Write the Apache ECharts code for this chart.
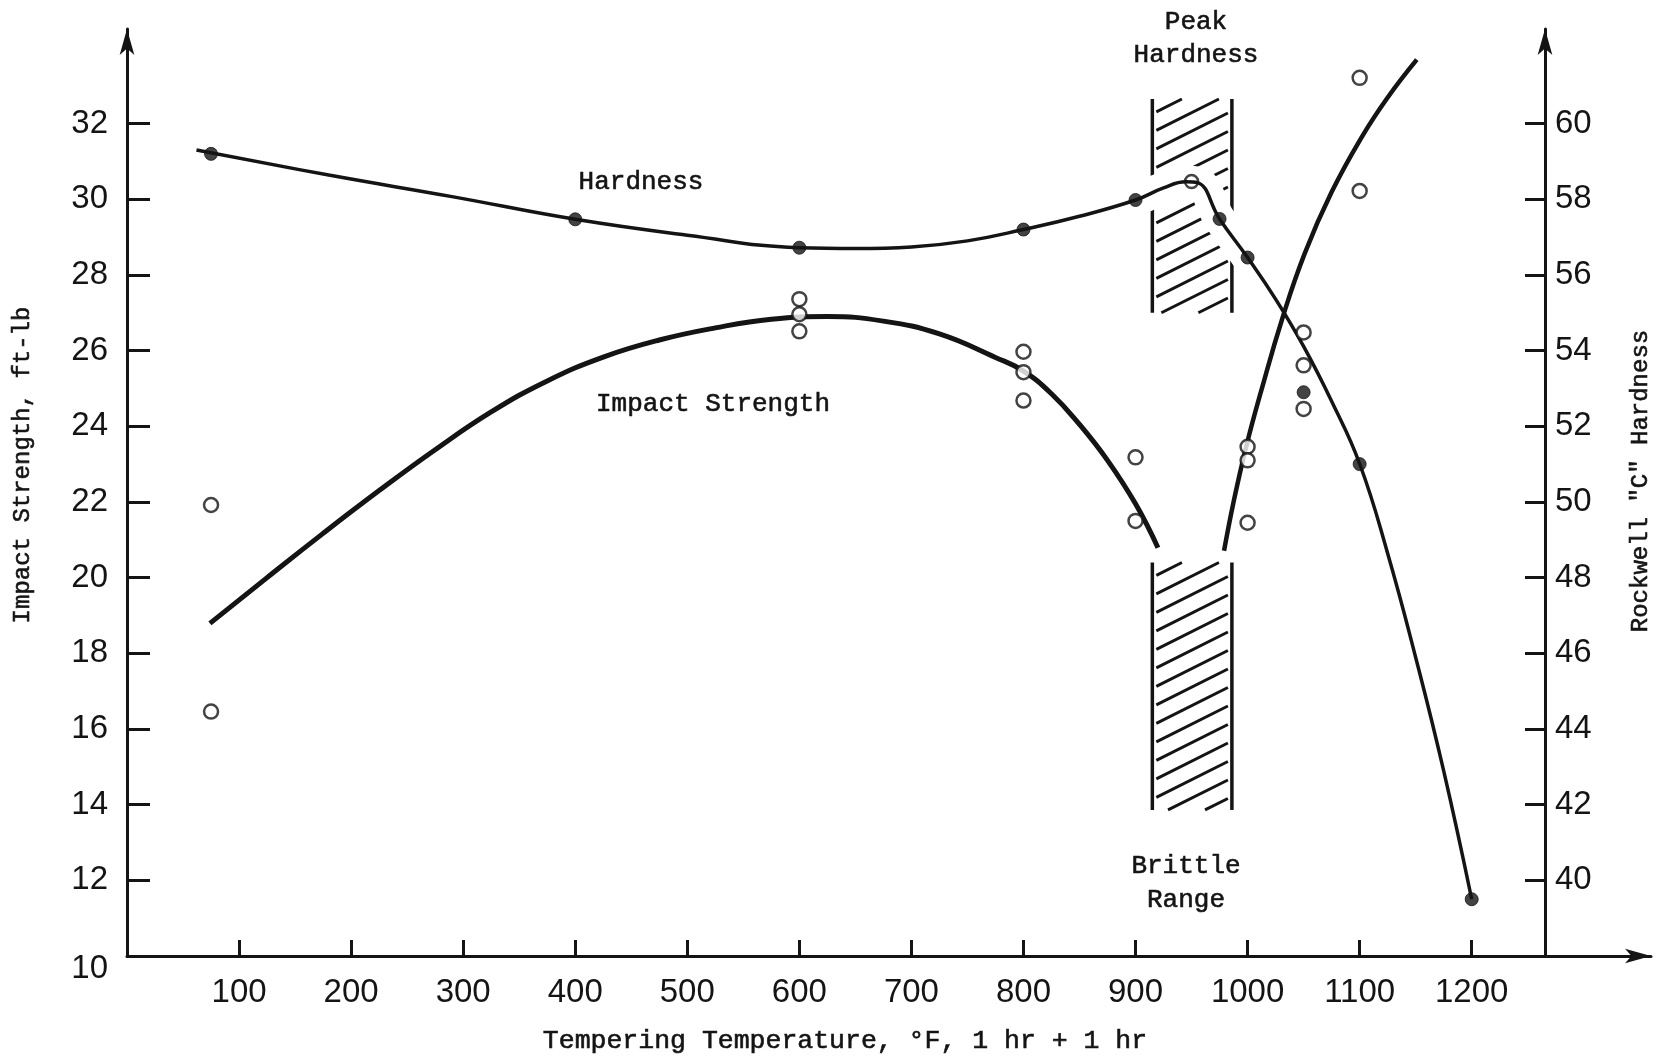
<!DOCTYPE html>
<html>
<head>
<meta charset="utf-8">
<script src="https://cdn.jsdelivr.net/npm/echarts@6/dist/echarts.min.js"></script>
<style>
  html, body { margin: 0; padding: 0; background: #ffffff; }
  #chart { width: 1657px; height: 1059px; }
</style>
</head>
<body>
<div id="chart"></div>
<script>
// Tempering response of a hardened steel: Rockwell "C" hardness (right axis)
// and impact strength (left axis) against tempering temperature.

// Axis ticks
const tempTicks = [100, 200, 300, 400, 500, 600, 700, 800, 900, 1000, 1100, 1200];
const impactTicks = [12, 14, 16, 18, 20, 22, 24, 26, 28, 30, 32];
const impactLabels = [10, 12, 14, 16, 18, 20, 22, 24, 26, 28, 30, 32];
const hardnessTicks = [40, 42, 44, 46, 48, 50, 52, 54, 56, 58, 60];

// Measured hardness (filled points), Rockwell C
const hardTemp  = [75, 400, 600, 800, 900, 950, 975, 1000, 1050, 1100, 1200];
const hardValue = [59.2, 57.47, 56.72, 57.2, 57.98, 58.47, 57.48, 56.46, 52.9, 51.0, 39.5];

// Faired hardness curve
const hardCurveTemp  = [62, 180, 290, 400, 500, 600, 650, 700, 750, 800, 850, 900, 925, 945, 955, 975, 1000, 1025, 1050, 1075, 1100, 1125, 1150, 1175, 1200];
const hardCurveValue = [59.3, 58.64, 58.07, 57.47, 57.05, 56.72, 56.7, 56.74, 56.9, 57.2, 57.55, 57.98, 58.3, 58.46, 58.44, 57.48, 56.46, 55.36, 54.11, 52.66, 51.01, 48.64, 45.89, 42.89, 39.5];

// Measured impact strength (open points), ft-lb
const impactTemp  = [75, 75, 600, 600, 600, 800, 800, 800, 900, 900, 1000, 1000, 1000, 1050, 1050, 1050, 1100, 1100];
const impactValue = [21.92, 16.46, 27.36, 26.96, 26.51, 25.97, 25.43, 24.68, 23.18, 21.5, 23.46, 23.1, 21.45, 26.48, 25.61, 24.46, 33.21, 30.22];

// Faired impact curve, below and above the brittle range
const impactLowTemp   = [74, 125, 175, 225, 275, 325, 375, 425, 475, 525, 575, 625, 675, 725, 775, 800, 825, 850, 875, 900, 920];
const impactLowValue  = [18.79, 20.0, 21.17, 22.3, 23.38, 24.38, 25.2, 25.83, 26.28, 26.6, 26.83, 26.9, 26.78, 26.44, 25.82, 25.46, 24.86, 24.05, 23.1, 21.95, 20.79];
const impactHighTemp  = [979, 988, 999, 1012, 1031, 1051, 1075, 1102, 1125, 1151];
const impactHighValue = [20.71, 22.07, 23.49, 24.92, 26.85, 28.57, 30.19, 31.65, 32.69, 33.69];

// Hatched temperature bands (on the impact scale): peak hardness, brittle range
const zoneStart  = [915, 915];
const zoneEnd    = [986, 986];
const zoneBottom = [27.0, 13.86];
const zoneTop    = [32.65, 20.4];

const pairs = (xs, ys) => xs.map((x, i) => [x, ys[i]]);

const INK = '#141414';
const NUM_FONT = 'Liberation Sans';
const TYPE_FONT = 'Liberation Mono';
const SMOOTH = 0.45;

function renderZone(params, api) {
  const topLeft = api.coord([api.value(0), api.value(3)]);
  const botRight = api.coord([api.value(1), api.value(2)]);
  const x0 = topLeft[0], yT = topLeft[1], x1 = botRight[0], yB = botRight[1];
  const children = [
    { type: 'line', shape: { x1: x0, y1: yT, x2: x0, y2: yB }, style: { stroke: INK, lineWidth: 3.5 } },
    { type: 'line', shape: { x1: x1, y1: yT, x2: x1, y2: yB }, style: { stroke: INK, lineWidth: 3.5 } }
  ];
  const slope = 0.5, step = 18.5, inset = 4;
  const w = x1 - x0;
  for (let c = yT + step * 0.8; c < yB + slope * w; c += step) {
    const xa = Math.max(x0 + inset, x0 + (c - yB) / slope);
    const xb = Math.min(x1 - inset, x0 + (c - yT) / slope);
    if (xb - xa > 8) {
      children.push({
        type: 'line',
        shape: { x1: xa, y1: c - slope * (xa - x0), x2: xb, y2: c - slope * (xb - x0) },
        style: { stroke: INK, lineWidth: 3 }
      });
    }
  }
  return { type: 'group', children };
}

const chart = echarts.init(document.getElementById('chart'));

const typeText = (text, x, y, size, rot) => ({
  type: 'text', x, y, rotation: rot || 0, z: 10,
  style: {
    text, fill: INK, stroke: INK, lineWidth: 0.6,
    fontSize: size, fontFamily: TYPE_FONT, align: 'center', verticalAlign: 'middle'
  }
});

const numLabel = { color: INK, fontSize: 33, fontFamily: NUM_FONT };

chart.setOption({
  animation: false,
  backgroundColor: '#ffffff',
  grid: { left: 127, right: 6, top: 29, bottom: 103 },
  xAxis: {
    type: 'value', min: 0, max: 1360,
    axisLine: { show: true, symbol: ['none', 'arrow'], symbolSize: [11, 26], lineStyle: { color: INK, width: 3 } },
    axisTick: { show: true, inside: true, length: 16, customValues: tempTicks, lineStyle: { color: INK, width: 3 } },
    axisLabel: Object.assign({ customValues: tempTicks, margin: 20, formatter: v => String(v) }, numLabel),
    splitLine: { show: false }
  },
  yAxis: [
    {
      type: 'value', position: 'left', min: 10, max: 34.5,
      axisLine: { show: true, symbol: ['none', 'arrow'], symbolSize: [11, 26], lineStyle: { color: INK, width: 3 } },
      axisTick: { show: true, inside: true, length: 23, customValues: impactTicks, lineStyle: { color: INK, width: 3 } },
      axisLabel: Object.assign({
        customValues: impactLabels, margin: 19,
        formatter: v => (v === 10 ? '{low|10}' : String(v)),
        rich: { low: Object.assign({ padding: [26, 0, 0, 0] }, numLabel) }
      }, numLabel),
      splitLine: { show: false }
    },
    {
      type: 'value', position: 'right', offset: -106, min: 38, max: 62.5,
      axisLine: { show: true, symbol: ['none', 'arrow'], symbolSize: [11, 26], lineStyle: { color: INK, width: 3 } },
      axisTick: { show: true, inside: true, length: 20, customValues: hardnessTicks, lineStyle: { color: INK, width: 3 } },
      axisLabel: Object.assign({ customValues: hardnessTicks, margin: 10, formatter: v => String(v) }, numLabel),
      splitLine: { show: false }
    }
  ],
  graphic: [
    typeText('Tempering Temperature, °F, 1 hr + 1 hr', 845, 1041, 26.5),
    typeText('Impact Strength, ft-lb', 23, 465, 24, Math.PI / 2),
    typeText('Rockwell "C" Hardness', 1641, 481, 24, Math.PI / 2),
    typeText('Hardness', 641, 182, 26),
    typeText('Impact Strength', 713, 404, 26),
    typeText('Peak', 1196, 22, 26),
    typeText('Hardness', 1196, 55, 26),
    typeText('Brittle', 1186, 866, 26),
    typeText('Range', 1186, 900, 26)
  ],
  series: [
    {
      name: 'bands', type: 'custom', z: 1, silent: true,
      renderItem: renderZone,
      encode: { x: [0, 1], y: [2, 3] },
      data: zoneStart.map((s, i) => [s, zoneEnd[i], zoneBottom[i], zoneTop[i]])
    },
    {
      // white clearance along the hardness curve through the hatching
      name: 'hardness clearance', type: 'line', yAxisIndex: 1, z: 2, silent: true,
      smooth: SMOOTH, symbol: 'none',
      lineStyle: { color: '#ffffff', width: 32 },
      data: pairs(hardCurveTemp, hardCurveValue)
    },
    {
      name: 'Hardness curve', type: 'line', yAxisIndex: 1, z: 3,
      smooth: SMOOTH, symbol: 'none',
      lineStyle: { color: INK, width: 3.5 },
      data: pairs(hardCurveTemp, hardCurveValue)
    },
    {
      name: 'Impact curve (low)', type: 'line', yAxisIndex: 0, z: 3,
      smooth: SMOOTH, symbol: 'none',
      lineStyle: { color: INK, width: 5 },
      data: pairs(impactLowTemp, impactLowValue)
    },
    {
      name: 'Impact curve (high)', type: 'line', yAxisIndex: 0, z: 3,
      smooth: SMOOTH, symbol: 'none',
      lineStyle: { color: INK, width: 4.5 },
      data: pairs(impactHighTemp, impactHighValue)
    },
    {
      name: 'Impact Strength', type: 'scatter', yAxisIndex: 0, z: 4,
      symbol: 'circle', symbolSize: 14,
      itemStyle: { color: '#ffffff', borderColor: INK, borderWidth: 2.5 },
      data: pairs(impactTemp, impactValue)
    },
    {
      name: 'Hardness', type: 'scatter', yAxisIndex: 1, z: 5,
      symbol: 'circle', symbolSize: 13,
      itemStyle: { color: INK, borderColor: INK, borderWidth: 1 },
      data: hardTemp.map((t, i) => {
        const v = hardValue[i];
        // the peak-hardness reading is plotted as an open ring
        if (v === Math.max(...hardValue.filter((_, j) => hardTemp[j] > 800))) {
          return { value: [t, v], itemStyle: { color: 'rgba(255,255,255,0)', borderColor: INK, borderWidth: 2.5 } };
        }
        return [t, v];
      })
    }
  ]
});
</script>
</body>
</html>
